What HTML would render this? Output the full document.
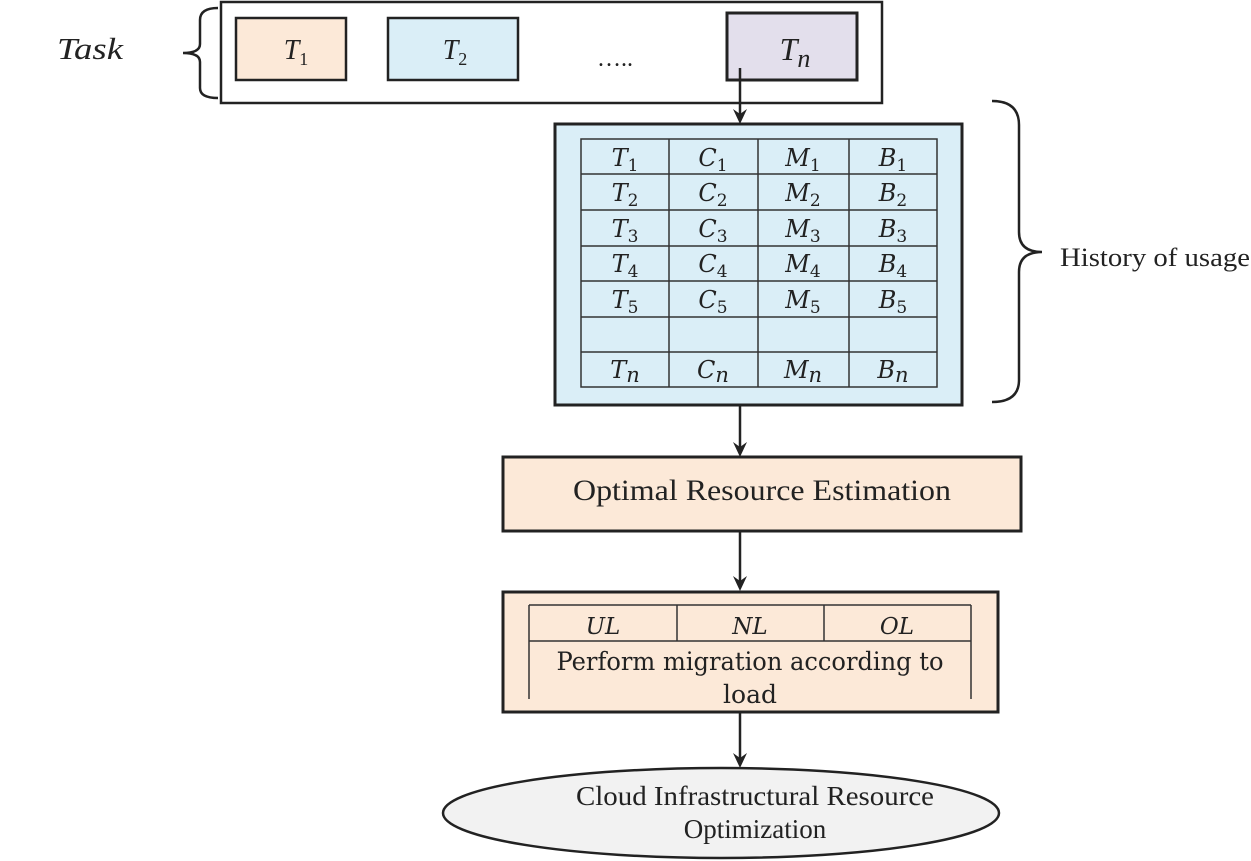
<!DOCTYPE html>
<html><head><meta charset="utf-8"><style>html,body{margin:0;padding:0;background:#fff;}svg{display:block}</style></head>
<body>
<svg width="1251" height="861" viewBox="0 0 1251 861" xmlns="http://www.w3.org/2000/svg" font-family="Liberation Serif, serif">
<!-- Task -->
<text x="57" y="59" font-size="31" font-style="italic" fill="#222" textLength="66" lengthAdjust="spacingAndGlyphs">Task</text>
<path d="M218,8 Q200,8 200,20 L200,44 Q200,53 183,53 Q200,53 200,62 L200,88 Q200,98 218,98" fill="none" stroke="#222" stroke-width="2.5"/>
<rect x="221" y="2" width="661" height="101" fill="#fff" stroke="#222" stroke-width="2.5"/>
<rect x="236" y="18" width="110" height="62" fill="#fce9d8" stroke="#222" stroke-width="2.5"/>
<rect x="388" y="18" width="130" height="62" fill="#daeef7" stroke="#222" stroke-width="2.5"/>
<rect x="727" y="13" width="130" height="67" fill="#e3dfec" stroke="#222" stroke-width="3"/>
<text x="296" y="59" font-size="28" font-style="italic" text-anchor="middle" fill="#222">T<tspan font-size="18" font-style="normal" dy="6">1</tspan></text>
<text x="455" y="59" font-size="28" font-style="italic" text-anchor="middle" fill="#222">T<tspan font-size="18" font-style="normal" dy="6">2</tspan></text>
<text x="615" y="66" font-size="24" text-anchor="middle" fill="#222">…..</text>
<text x="795" y="60" font-size="32" font-style="italic" text-anchor="middle" fill="#222">T<tspan font-size="26" dy="7">n</tspan></text>
<g stroke="#222" stroke-width="2.5">
<line x1="740" y1="68" x2="740" y2="114"/>
<line x1="740" y1="405" x2="740" y2="447"/>
<line x1="740" y1="531" x2="740" y2="581"/>
<line x1="740" y1="712" x2="740" y2="758"/>
</g>
<g fill="#222">
<path d="M733,109 L740,114 L747,109 L740,124 Z"/>
<path d="M733,442 L740,447 L747,442 L740,457 Z"/>
<path d="M733,576 L740,581 L747,576 L740,591 Z"/>
<path d="M733,753 L740,758 L747,753 L740,768 Z"/>
</g>
<!-- History -->
<rect x="555" y="124" width="407" height="281" fill="#daeef7" stroke="#222" stroke-width="3"/>
<g stroke="#333" stroke-width="1.5" fill="none">
<rect x="581" y="139" width="356" height="248"/>
<line x1="669" y1="139" x2="669" y2="387"/><line x1="758" y1="139" x2="758" y2="387"/><line x1="849" y1="139" x2="849" y2="387"/>
<line x1="581" y1="174" x2="937" y2="174"/><line x1="581" y1="210" x2="937" y2="210"/><line x1="581" y1="246" x2="937" y2="246"/>
<line x1="581" y1="281" x2="937" y2="281"/><line x1="581" y1="317" x2="937" y2="317"/><line x1="581" y1="352" x2="937" y2="352"/>
</g>
<g font-family="DejaVu Serif, serif" font-style="italic" font-size="24" fill="#222" text-anchor="middle">
<text x="625" y="166">T<tspan font-size="17" font-style="normal" dy="5">1</tspan></text><text x="713" y="166">C<tspan font-size="17" font-style="normal" dy="5">1</tspan></text><text x="803" y="166">M<tspan font-size="17" font-style="normal" dy="5">1</tspan></text><text x="893" y="166">B<tspan font-size="17" font-style="normal" dy="5">1</tspan></text>
<text x="625" y="201">T<tspan font-size="17" font-style="normal" dy="5">2</tspan></text><text x="713" y="201">C<tspan font-size="17" font-style="normal" dy="5">2</tspan></text><text x="803" y="201">M<tspan font-size="17" font-style="normal" dy="5">2</tspan></text><text x="893" y="201">B<tspan font-size="17" font-style="normal" dy="5">2</tspan></text>
<text x="625" y="237">T<tspan font-size="17" font-style="normal" dy="5">3</tspan></text><text x="713" y="237">C<tspan font-size="17" font-style="normal" dy="5">3</tspan></text><text x="803" y="237">M<tspan font-size="17" font-style="normal" dy="5">3</tspan></text><text x="893" y="237">B<tspan font-size="17" font-style="normal" dy="5">3</tspan></text>
<text x="625" y="272">T<tspan font-size="17" font-style="normal" dy="5">4</tspan></text><text x="713" y="272">C<tspan font-size="17" font-style="normal" dy="5">4</tspan></text><text x="803" y="272">M<tspan font-size="17" font-style="normal" dy="5">4</tspan></text><text x="893" y="272">B<tspan font-size="17" font-style="normal" dy="5">4</tspan></text>
<text x="625" y="308">T<tspan font-size="17" font-style="normal" dy="5">5</tspan></text><text x="713" y="308">C<tspan font-size="17" font-style="normal" dy="5">5</tspan></text><text x="803" y="308">M<tspan font-size="17" font-style="normal" dy="5">5</tspan></text><text x="893" y="308">B<tspan font-size="17" font-style="normal" dy="5">5</tspan></text>
<text x="625" y="378">T<tspan font-size="21" dy="4">n</tspan></text><text x="713" y="378">C<tspan font-size="21" dy="4">n</tspan></text><text x="803" y="378">M<tspan font-size="21" dy="4">n</tspan></text><text x="893" y="378">B<tspan font-size="21" dy="4">n</tspan></text>
</g>
<path d="M992,101 Q1019,101 1019,125 L1019,232 Q1019,252 1042,252 Q1019,252 1019,272 L1019,380 Q1019,402 992,402" fill="none" stroke="#222" stroke-width="2.5"/>
<text x="1060" y="266" font-size="26" fill="#222" textLength="190" lengthAdjust="spacingAndGlyphs">History of usage</text>
<rect x="503" y="457" width="518" height="74" fill="#fce9d8" stroke="#222" stroke-width="3"/>
<text x="762" y="500" font-size="30" text-anchor="middle" fill="#222" textLength="378" lengthAdjust="spacingAndGlyphs">Optimal Resource Estimation</text>
<rect x="503" y="592" width="495" height="120" fill="#fce9d8" stroke="#222" stroke-width="3"/>
<g stroke="#333" stroke-width="1.5" fill="none">
<line x1="529" y1="605" x2="971" y2="605"/><line x1="529" y1="641" x2="971" y2="641"/>
<line x1="529" y1="605" x2="529" y2="699"/><line x1="971" y1="605" x2="971" y2="699"/>
<line x1="677" y1="605" x2="677" y2="641"/><line x1="824" y1="605" x2="824" y2="641"/>
</g>
<g font-family="DejaVu Serif, serif" font-style="italic" font-size="23" fill="#222" text-anchor="middle">
<text x="603" y="634">UL</text><text x="750" y="634">NL</text><text x="897" y="634">OL</text>
</g>
<text x="750" y="670" font-size="25" text-anchor="middle" fill="#222" textLength="387" lengthAdjust="spacingAndGlyphs" font-family="DejaVu Serif, serif">Perform migration according to</text>
<text x="750" y="703" font-size="25" text-anchor="middle" fill="#222" font-family="DejaVu Serif, serif">load</text>
<ellipse cx="721" cy="813" rx="278" ry="45" fill="#f2f2f2" stroke="#222" stroke-width="2.5"/>
<text x="755" y="805" font-size="27" text-anchor="middle" fill="#222" textLength="358" lengthAdjust="spacingAndGlyphs">Cloud Infrastructural Resource</text>
<text x="755" y="838" font-size="27" text-anchor="middle" fill="#222">Optimization</text>
</svg>
</body></html>
